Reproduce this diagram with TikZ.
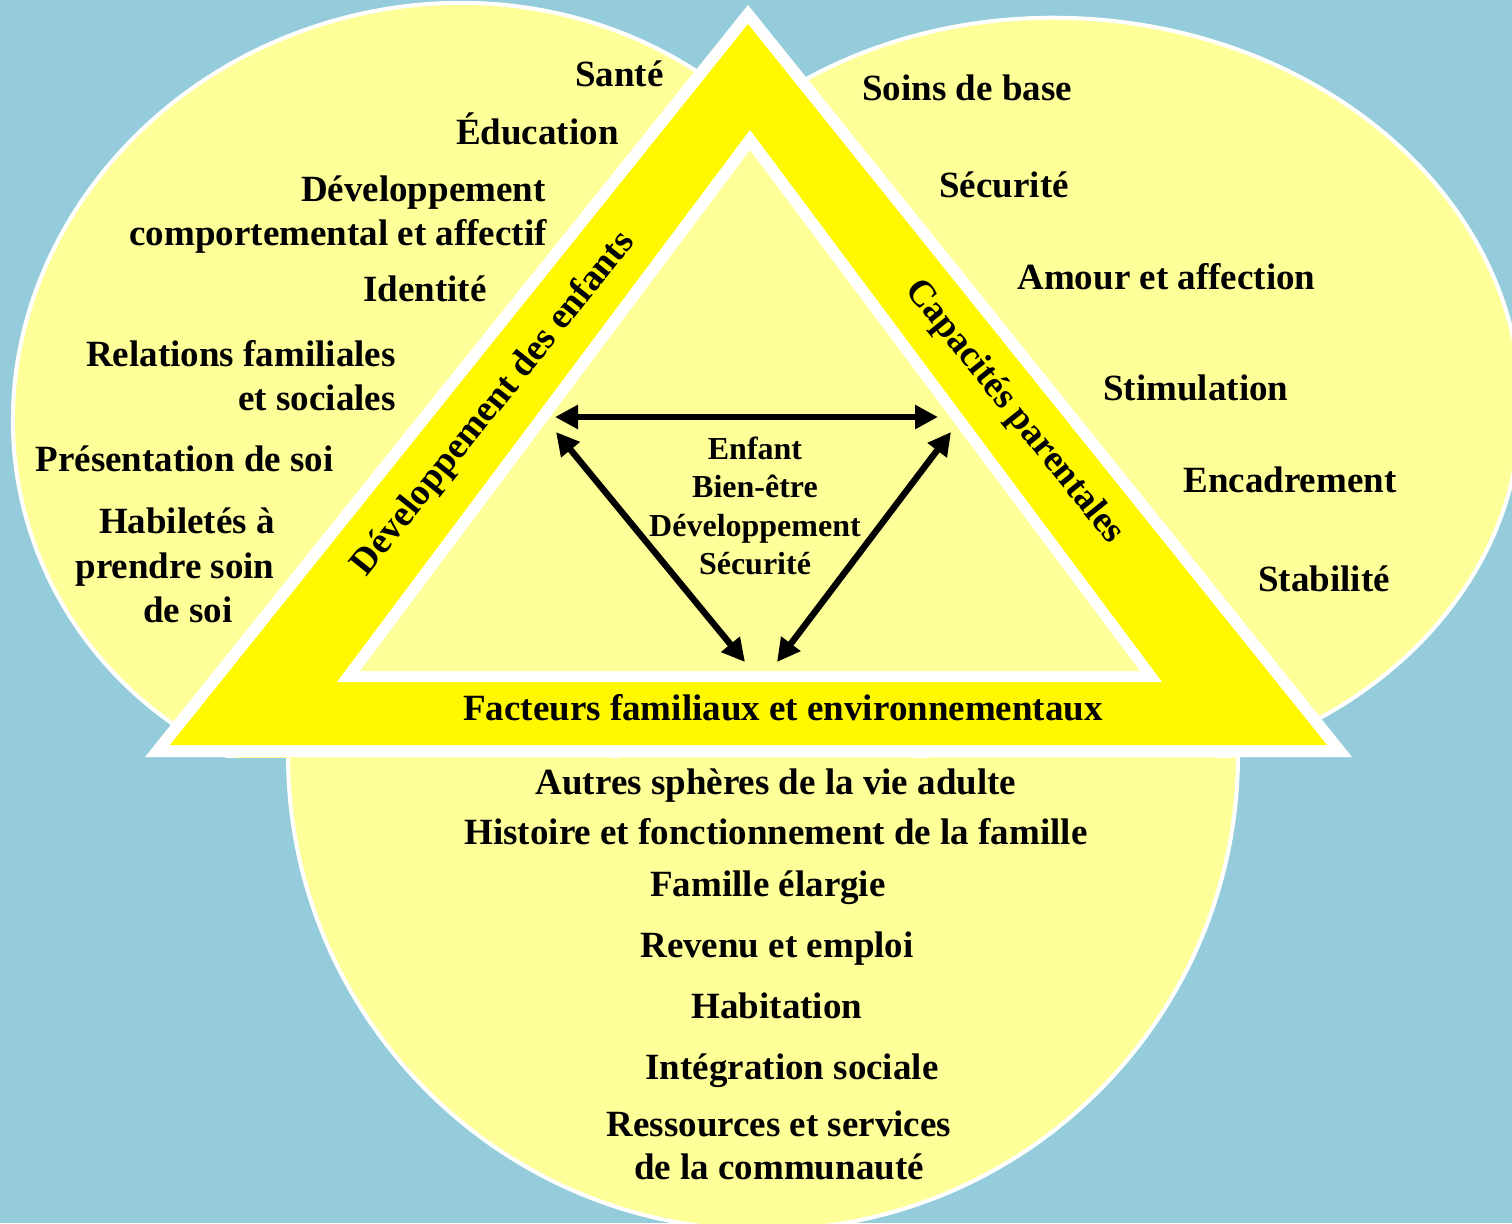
\documentclass[tikz,border=0pt]{standalone}
\usepackage{fontspec}
\setmainfont{Liberation Serif}
\usetikzlibrary{arrows.meta}
\definecolor{bgblue}{HTML}{94CCDC}
\definecolor{pale}{HTML}{FFFF99}
\definecolor{gold}{HTML}{FFF800}
\begin{document}
\begin{tikzpicture}[x=0.5pt,y=-0.5pt,
  blob/.style={fill=pale,draw=white,line width=2pt},
  lbl/.style={font=\fontsize{18.5}{22}\selectfont\bfseries,inner sep=0pt,text=black},
  ctr/.style={font=\fontsize{16}{19.25}\selectfont\bfseries,inner sep=0pt,align=center,text=black},
  arr/.style={line width=3.2pt,{Triangle[length=11.5pt,width=11.5pt]}-{Triangle[length=11.5pt,width=11.5pt]}}]
\useasboundingbox (0,0) rectangle (1512,1223);
\fill[bgblue] (0,0) rectangle (1512,1223);
% bottom sphere
\draw[blob] (763,755) circle[radius=475];
% left and right spheres (their lower parts hide behind the triangle)
\begin{scope}
  \clip (0,-20) rectangle (1512,757);
  \draw[blob,rotate around={17:(440.6,401.6)}] (440.6,401.6) ellipse[x radius=430.5,y radius=395.6];
  \draw[blob,rotate around={-3.3:(1063.3,398.4)}] (1063.3,398.4) ellipse[x radius=457.6,y radius=380.4];
\end{scope}
% triangle
\fill[white] (748,5) -- (145,757) -- (1352,757) -- cycle;
\fill[gold] (748,24) -- (170,745) -- (1327,745) -- cycle;
\fill[white] (750,130) -- (337,682) -- (1162,682) -- cycle;
\fill[pale] (750,150) -- (360,671) -- (1140,671) -- cycle;
% arrows
\coordinate (aL) at (555,417); \coordinate (aR) at (938,417);
\coordinate (bL) at (556,432); \coordinate (bB) at (745,662);
\coordinate (cR) at (951,432); \coordinate (cB) at (777,662);
\draw[arr] (aL) -- (aR);
\draw[arr] (bL) -- (bB);
\draw[arr] (cR) -- (cB);
\node[ctr] (core) at (755,506) {Enfant\\Bien-être\\Développement\\Sécurité};
% side labels
\node[lbl,rotate=51.25] (dev) at (494,404) {Développement des enfants};
\node[lbl,rotate=-51.2] (cap) at (1014,412) {Capacités parentales};
\node[lbl,anchor=base] (fac) at (783,720) {Facteurs familiaux et environnementaux};
% left sphere
\node[lbl,anchor=base east] (l1) at (664,86) {Santé};
\node[lbl,anchor=base east] (l2) at (619,144) {Éducation};
\node[lbl,anchor=base east] (l3a) at (546,201) {Développement};
\node[lbl,anchor=base east] (l3b) at (547,245) {comportemental et affectif};
\node[lbl,anchor=base east] (l4) at (487,301) {Identité};
\node[lbl,anchor=base east] (l5a) at (396,366) {Relations familiales};
\node[lbl,anchor=base east] (l5b) at (396,410) {et sociales};
\node[lbl,anchor=base east] (l6) at (334,471) {Présentation de soi};
\node[lbl,anchor=base] (l7a) at (187,533) {Habiletés à};
\node[lbl,anchor=base] (l7b) at (175,578) {prendre soin};
\node[lbl,anchor=base] (l7c) at (188,622) {de soi};
% right sphere
\node[lbl,anchor=base west] (r1) at (862,100) {Soins de base};
\node[lbl,anchor=base west] (r2) at (939,197) {Sécurité};
\node[lbl,anchor=base west] (r3) at (1017,289) {Amour et affection};
\node[lbl,anchor=base west] (r4) at (1103,400) {Stimulation};
\node[lbl,anchor=base west] (r5) at (1183,492) {Encadrement};
\node[lbl,anchor=base west] (r6) at (1258,591) {Stabilité};
% bottom sphere
\node[lbl,anchor=base] (b1) at (776,794) {Autres sphères de la vie adulte};
\node[lbl,anchor=base] (b2) at (776,844) {Histoire et fonctionnement de la famille};
\node[lbl,anchor=base] (b3) at (768,896) {Famille élargie};
\node[lbl,anchor=base] (b4) at (777,957) {Revenu et emploi};
\node[lbl,anchor=base] (b5) at (777,1018) {Habitation};
\node[lbl,anchor=base] (b6) at (792,1079) {Intégration sociale};
\node[lbl,anchor=base] (b7a) at (779,1136) {Ressources et services};
\node[lbl,anchor=base] (b7b) at (779,1179) {de la communauté};
\end{tikzpicture}
\end{document}
